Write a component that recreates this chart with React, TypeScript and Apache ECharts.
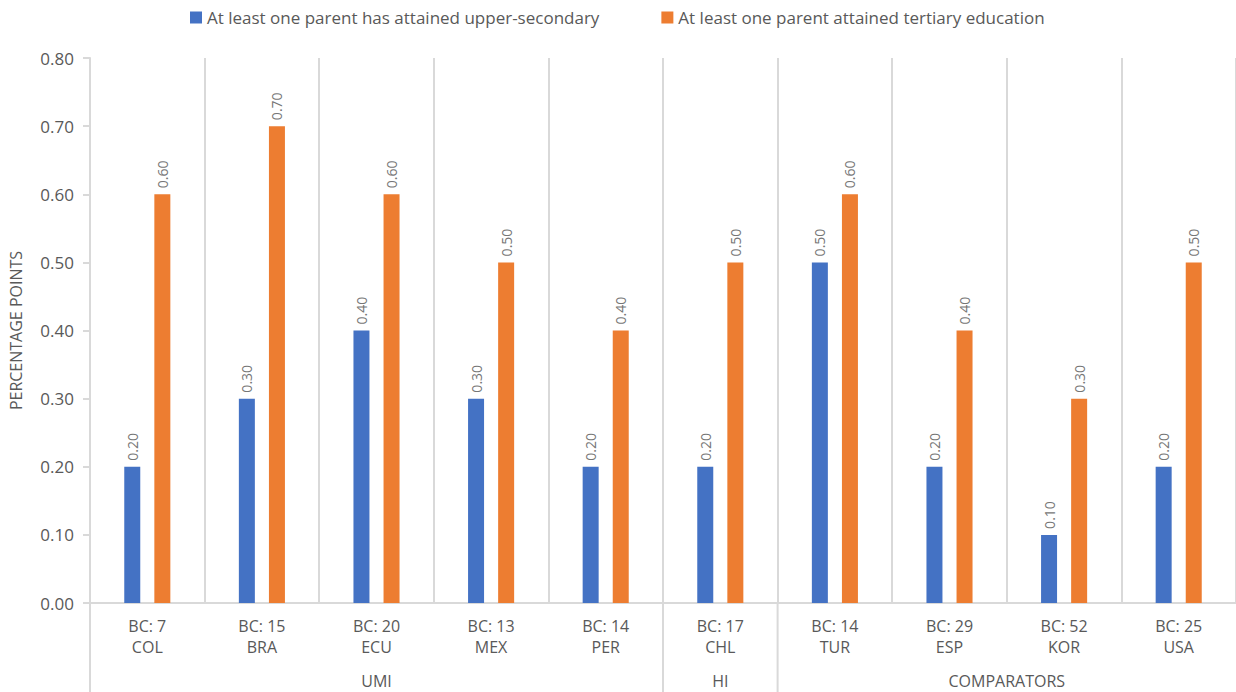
import React, { useEffect, useRef } from "react";
import * as echarts from "echarts";

const countryCodes = ["COL", "BRA", "ECU", "MEX", "PER", "CHL", "TUR", "ESP", "KOR", "USA"];
const bcCounts = [7, 15, 20, 13, 14, 17, 14, 29, 52, 25];
const upperSecondary = [0.2, 0.3, 0.4, 0.3, 0.2, 0.2, 0.5, 0.2, 0.1, 0.2];
const tertiary = [0.6, 0.7, 0.6, 0.5, 0.4, 0.5, 0.6, 0.4, 0.3, 0.5];
const groupNames = ["UMI", "HI", "COMPARATORS"];
const groupSizes = [5, 1, 4];
const seriesNames = [
  "At least one parent has attained upper-secondary",
  "At least one parent attained tertiary education",
];
const yTicks = { min: 0, max: 0.8, interval: 0.1 };

const FONT = "'Open Sans', sans-serif";
const GREY = "#595959";
const LINE = "#d9d9d9";

export default function App() {
  const ref = useRef<HTMLDivElement>(null);
  useEffect(() => {
    if (!ref.current) return;
    const chart = echarts.init(ref.current, null, { renderer: "svg" });
    const categories = countryCodes.map((c, i) => `BC: ${bcCounts[i]}\n${c}`);
    const labelOpt = {
      show: true,
      position: "top",
      rotate: 90,
      align: "left",
      verticalAlign: "middle",
      distance: 6,
      color: "#767676",
      fontSize: 14,
      fontFamily: FONT,
      formatter: (p: any) => Number(p.value).toFixed(2),
    };
    chart.setOption({
      animation: false,
      textStyle: { fontFamily: FONT },
      legend: {
        top: 4,
        left: 185,
        itemWidth: 12,
        itemHeight: 12,
        itemGap: 62,
        icon: "rect",
        textStyle: { color: GREY, fontSize: 17, fontFamily: FONT },
        data: seriesNames,
      },
      grid: { left: 89, top: 58, right: -5, bottom: 89, containLabel: false },
      xAxis: {
        type: "category",
        data: categories,
        axisLine: { show: true, lineStyle: { color: LINE, width: 2 } },
        axisTick: { show: false },
        splitLine: { show: true, interval: 0, lineStyle: { color: LINE, width: 2 } },
        axisLabel: {
          interval: 0,
          color: GREY,
          fontSize: 16,
          lineHeight: 21,
          margin: 12,
          fontFamily: FONT,
        },
      },
      yAxis: {
        type: "value",
        min: yTicks.min,
        max: yTicks.max,
        interval: yTicks.interval,
        name: "PERCENTAGE POINTS",
        nameLocation: "middle",
        nameGap: 66,
        nameTextStyle: { color: GREY, fontSize: 16, fontFamily: FONT },
        axisLine: { show: true, lineStyle: { color: LINE, width: 2 } },
        axisTick: { show: true, length: 7, lineStyle: { color: LINE, width: 2 } },
        splitLine: { show: false },
        axisLabel: {
          color: GREY,
          fontSize: 17,
          margin: 16,
          fontFamily: FONT,
          formatter: (v: number) => v.toFixed(2),
        },
      },
      series: [
        {
          name: seriesNames[0],
          type: "bar",
          data: upperSecondary,
          barWidth: 16,
          barGap: "88%",
          itemStyle: { color: "#4472C4" },
          label: labelOpt,
        },
        {
          name: seriesNames[1],
          type: "bar",
          data: tertiary,
          barWidth: 16,
          itemStyle: { color: "#ED7D31" },
          label: labelOpt,
        },
      ],
    });

    // group separators & group labels computed from axis positions
    const p0 = chart.convertToPixel({ xAxisIndex: 0 }, 0) as number;
    const p1 = chart.convertToPixel({ xAxisIndex: 0 }, 1) as number;
    const w = p1 - p0;
    const axisY = chart.convertToPixel({ yAxisIndex: 0 }, 0) as number;
    const bottom = 692;
    const graphics: any[] = [];
    let start = 0;
    groupNames.forEach((g, gi) => {
      const end = start + groupSizes[gi];
      const left = p0 - w / 2 + start * w;
      const right = p0 - w / 2 + end * w;
      graphics.push({
        type: "line",
        shape: { x1: left, y1: axisY, x2: left, y2: bottom },
        style: { stroke: LINE, lineWidth: 2 },
      });
      graphics.push({
        type: "text",
        x: (left + right) / 2,
        y: 681,
        style: {
          text: g,
          fill: GREY,
          font: `16px ${FONT}`,
          textAlign: "center",
          textVerticalAlign: "middle",
        },
      });
      start = end;
    });
    chart.setOption({ graphic: graphics });
    return () => chart.dispose();
  }, []);
  return (
    <div
      ref={ref}
      style={{ position: "absolute", left: 0, top: 0, width: 1236, height: 692, background: "#fff" }}
    />
  );
}
